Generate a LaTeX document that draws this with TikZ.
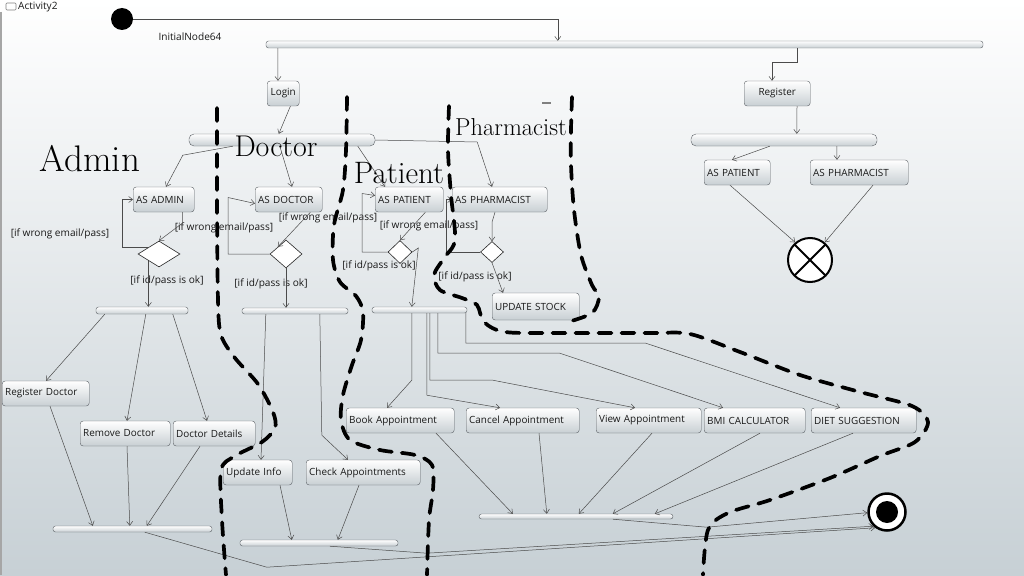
\documentclass[tikz,border=0pt]{standalone}
\usepackage{fontspec}
\newfontfamily\uifont{Open Sans}
\usetikzlibrary{positioning,shapes.geometric,arrows.meta}
\definecolor{bgbot}{RGB}{199,208,213}
\definecolor{edge}{RGB}{75,75,75}
\definecolor{boxline}{RGB}{90,95,100}
\definecolor{boxbot}{RGB}{200,207,211}
\tikzset{
act/.style={
  draw=boxline, rounded corners=3pt,
  top color=white, bottom color=boxbot,
  text width=#1, align=left,
  inner xsep=3pt, inner ysep=0pt,
  minimum height=25pt, anchor=west,
  font=\uifont\fontsize{9.9}{11}\selectfont, text=black!90
  },
bar/.style={draw=boxline, rounded corners=2.5pt, inner sep=0pt, top color=white, bottom color=boxbot},
decision/.style={diamond, draw=black!85, fill=white, inner sep=0pt, line width=0.6pt},
flow/.style={draw=edge, line width=0.5pt, -{Straight Barb[length=4pt,width=6pt]}},
guard/.style={font=\uifont\fontsize{10.1}{11}\selectfont, text=black!90, inner sep=0pt},
lane/.style={line width=3.7pt, dash pattern=on 13pt off 10pt, line cap=round},
swim/.style={font=\fontsize{#1}{#1}\selectfont, inner sep=0pt},
%texto/.style={font=\footnotesize\sffamily}
}

\begin{document}
\begin{tikzpicture}[x=1pt, y=-1pt]
    \useasboundingbox (0,0) rectangle (1024,575);
    \shade[top color=white, bottom color=bgbot] (0,0) rectangle (1024,575);
    \draw[gray!70, line width=1.5pt] (1,12) -- (1,575);
    \draw[gray, line width=0.6pt, rounded corners=1pt] (6,3) rectangle (16,10);
    \node[guard, anchor=west] (title) at (18,7) {Activity2};

    % start
    \node[circle, fill=black, minimum size=22pt, inner sep=0pt] (init) at (122,19) {};
    \node[guard] (initlabel) at (190,37) {InitialNode64};

    % bars
    \node[bar, minimum width=717pt, minimum height=7pt] (top) at (624.5,44.5) {};
    \node[bar, rounded corners=5pt, minimum width=186pt, minimum height=12pt] (lbar) at (282,140) {};
    \node[bar, rounded corners=5pt, minimum width=186pt, minimum height=12pt] (rbar) at (784,140) {};
    \node[bar, minimum width=92pt, minimum height=7pt] (abar) at (142,310.5) {};
    \node[bar, minimum width=106pt, minimum height=6pt] (dbar) at (295,311) {};
    \node[bar, minimum width=95pt, minimum height=6pt] (pbar) at (419.5,310) {};
    \node[bar, minimum width=159pt, minimum height=6pt] (ajoin) at (132.5,529) {};
    \node[bar, minimum width=158pt, minimum height=6pt] (djoin) at (319,543) {};
    \node[bar, minimum width=194pt, minimum height=5pt] (pjoin) at (576,516.5) {};

    % actions
    \node[act=26pt, align=center] (login) at (267,93.5) {Login};
    \node[act=60pt, align=center] (register) at (744,93.5) {Register};
    \node[act=60pt] (pat2) at (704,172.5) {AS PATIENT};
    \node[act=92pt] (phar2) at (810,172.5) {AS PHARMACIST};
    \node[act=55pt] (admin) at (133,199.5) {AS ADMIN};
    \node[act=61pt] (doctor) at (255,199.5) {AS DOCTOR};
    \node[act=62pt] (patient) at (375,199.5) {AS PATIENT};
    \node[act=89pt] (pharm) at (452,199.5) {AS PHARMACIST};
    \node[act=81pt, minimum height=27pt] (update) at (492,306.5) {UPDATE STOCK};
    \node[act=81pt] (regdoc) at (2,393.5) {Register Doctor};
    \node[act=84pt] (remdoc) at (80,433.5) {Remove Doctor};
    \node[act=76pt] (docdet) at (173,433.5) {Doctor Details};
    \node[act=63pt] (updinfo) at (223,472.5) {Update Info};
    \node[act=108pt] (checkapp) at (306,472.5) {Check Appointments};
    \node[act=102pt] (book) at (346,420.5) {Book Appointment};
    \node[act=107pt] (cancel) at (466,420.5) {Cancel Appointment};
    \node[act=99pt] (view) at (596,420.5) {View Appointment};
    \node[act=95pt] (bmi) at (704,420.5) {BMI CALCULATOR};
    \node[act=99pt] (diet) at (811,420.5) {DIET SUGGESTION};

    % decisions
    \node[decision, minimum width=42pt, minimum height=26pt] (adec) at (159,254) {};
    \node[decision, minimum width=32pt, minimum height=28pt] (ddec) at (286,254) {};
    \node[decision, minimum width=24pt, minimum height=23pt] (pdec) at (400,252) {};
    \node[decision, minimum width=23pt, minimum height=21pt] (phdec) at (492,252) {};

    % ends
    \node[circle, draw=black, line width=2pt, fill=white, minimum size=44pt, inner sep=0pt,
      path picture={\draw[line width=2pt] (path picture bounding box.north west) -- (path picture bounding box.south east)
        (path picture bounding box.north east) -- (path picture bounding box.south west);}] (ff) at (810,260) {};
    \node[circle, draw=black, line width=2.5pt, fill=white, minimum size=37pt, inner sep=0pt] (final) at (887,512) {};
    \fill (final.center) circle (11pt);

    % guards
    \node[guard] (g1) at (60,234) {[if wrong email/pass]};
    \node[guard] (g2) at (224,228) {[if wrong email/pass]};
    \node[guard] (g3) at (328,218) {[if wrong email/pass]};
    \node[guard] (g4) at (429,226) {[if wrong email/pass]};
    \node[guard] (g5) at (167,281) {[if id/pass is ok]};
    \node[guard] (g6) at (271,284) {[if id/pass is ok]};
    \node[guard] (g7) at (379,266) {[if id/pass is ok]};
    \node[guard] (g8) at (475,277) {[if id/pass is ok]};

    % start and login
    \draw[flow] (init.east) -| ([xshift=292pt]top.north west);
    \draw[flow] ([xshift=12pt]top.south west) -- ([xshift=11pt]login.north west);
    \draw[flow] ([xshift=531pt]top.south west) -- ++(0,14) -| ([xshift=28pt]register.north west);
    \draw[flow] ([xshift=-9pt]login.south east) -- ([xshift=90pt]lbar.north west);
    \draw[flow] ([xshift=44pt]lbar.south west) -- ++(-50,9) -- ([xshift=33pt]admin.north west);
    \draw[flow] ([xshift=91pt]lbar.south west) -- ([xshift=37pt]doctor.north west);
    \draw[flow] ([xshift=169pt]lbar.south west) -- ([xshift=10pt]patient.north west);
    \draw[flow] (lbar.east) -- ++(102,2) -- ([xshift=40pt]pharm.north west);

    % register
    \draw[flow] ([xshift=53pt]register.south west) -- ([xshift=106pt]rbar.north west);
    \draw[flow] ([xshift=79pt]rbar.south west) -- ([xshift=28pt]pat2.north west);
    \draw[flow] ([xshift=146pt]rbar.south west) -- ([xshift=27pt]phar2.north west);
    \draw[flow] ([xshift=26pt]pat2.south west) -- (ff.130);
    \draw[flow] ([xshift=63pt]phar2.south west) -- (ff.50);

    % checks
    \draw[flow] ([xshift=-12pt]admin.south east) -- ++(0,11) -- (adec.north);
    \draw[flow] (adec.north west) -| ([xshift=-11pt]admin.west) -- (admin.west);
    \draw[flow] (adec.south west) -- (adec.south west |- abar.north);
    \draw[flow] ([xshift=-12pt]doctor.south east) -- (ddec.north west);
    \draw[flow] (ddec.west) -| ([xshift=-27pt,yshift=2pt]doctor.west) -- ([yshift=-4pt]doctor.west);
    \draw[flow] (ddec.south) -- (ddec.south |- dbar.north);
    \draw[flow] ([xshift=-18pt]patient.south east) -- (pdec.north);
    \draw[flow] (pdec.west) -| ([xshift=-13pt,yshift=6pt]patient.west) -- ([yshift=4pt]patient.west);
    \draw[flow] (pdec.east) -- ++(6,-4) -- ([xshift=40pt]pbar.north west);
    \draw[flow] ([xshift=43pt]pharm.south west) -- ++(-3,10) -- (phdec.north);
    \draw[flow] (phdec.west) -| ([xshift=-6pt]pharm.west) -- (pharm.west);
    \draw[flow] (phdec.south) -- ([xshift=11pt]update.north west);

    % admin
    \draw[flow] ([xshift=9pt]abar.south west) -- ([xshift=44pt]regdoc.north west);
    \draw[flow] ([xshift=50pt]abar.south west) -- ([xshift=47pt]remdoc.north west);
    \draw[flow] ([xshift=77pt]abar.south west) -- ([xshift=34pt]docdet.north west);
    \draw[flow] ([xshift=48pt]regdoc.south west) -- ([xshift=40pt]ajoin.north west);
    \draw[flow] ([xshift=47pt]remdoc.south west) -- ([xshift=77pt]ajoin.north west);
    \draw[flow] ([xshift=27pt]docdet.south west) -- ([xshift=94pt]ajoin.north west);
    \draw[flow] ([xshift=92pt]ajoin.south west) -- ++(122,35) -- (final.233);

    % doctor
    \draw[flow] ([xshift=24pt]dbar.south west) -- ([xshift=38pt]updinfo.north west);
    \draw[flow] ([xshift=78pt]dbar.south west) -- ++(2,121) -- ([xshift=42pt]checkapp.north west);
    \draw[flow] ([xshift=57pt]updinfo.south west) -- ([xshift=52pt]djoin.north west);
    \draw[flow] ([xshift=53pt]checkapp.south west) -- ([xshift=98pt]djoin.north west);
    \draw[flow] ([xshift=90pt]djoin.south west) -- ++(97,7) -- (final.226);

    % patient
    \draw[flow] ([xshift=40pt]pbar.south west) -- ++(0,67) -- ([xshift=41pt]book.north west);
    \draw[flow] ([xshift=55pt]pbar.south west) -- ++(0,82) -- ([xshift=34pt]cancel.north west);
    \draw[flow] ([xshift=58pt]pbar.south west) -- ++(0,67) -- ++(63,0) -- ([xshift=39pt]view.north west);
    \draw[flow] ([xshift=66pt]pbar.south west) -- ++(0,40) -- ++(122,0) -- ([xshift=19pt]bmi.north west);
    \draw[flow] ([xshift=94pt]pbar.south west) -- ++(0,30) -- ++(180,0) -- ([xshift=29pt]diet.north west);
    \draw[flow] ([xshift=90pt]book.south west) -- ([xshift=34pt]pjoin.north west);
    \draw[flow] ([xshift=73pt]cancel.south west) -- ([xshift=68pt]pjoin.north west);
    \draw[flow] ([xshift=56pt]view.south west) -- ([xshift=100pt]pjoin.north west);
    \draw[flow] ([xshift=56pt]bmi.south west) -- ([xshift=134pt]pjoin.north west);
    \draw[flow] ([xshift=42pt]diet.south west) -- ([xshift=176pt]pjoin.north west);
    \draw[flow] ([xshift=134pt]pjoin.south west) -- ++(94,8) -- (final.182);

    % swimlane names
    \node[swim=37] (admintxt) at (90,159) {Admin};
    \node[swim=30] (doctortxt) at (276,146) {Doctor};
    \node[swim=31] (patienttxt) at (399,173) {Patient};
    \node[swim=24.5] (pharmtxt) at (511,127) {Pharmacist};

    % hand drawn lanes
    \draw[lane] plot[smooth] coordinates {(217,108) (217,200) (218,300) (221,335) (235,358) (258,384)
      (273,412) (275,428) (262,442) (235,456) (221,470) (222,520) (226,575)};
    \draw[lane] plot[smooth] coordinates {(347,97) (346,150) (343,190) (334,225) (333,260) (340,282)
      (356,296) (363,312) (361,340) (352,365) (343,395) (341,420) (350,440) (380,450) (415,455)
      (432,465) (433,490) (429,520) (427,575)};
    \draw[lane] plot[smooth] coordinates {(449,106) (448,150) (451,195) (455,240) (444,258) (434,275)
      (440,290) (462,298) (477,305) (484,322) (505,332) (560,333) (650,333) (690,334) (740,352)
      (800,375) (860,392) (912,406) (928,422) (915,442) (880,456) (830,478) (770,500) (728,513)
      (708,530) (703,575)};
    \draw[lane] plot[smooth] coordinates {(572,97) (571,130) (571,165) (574,210) (581,255) (592,285)
      (599,297) (592,313) (568,322)};
    \draw[gray, line width=1.5pt] (542,103) -- (551,103);
\end{tikzpicture}
\end{document}
